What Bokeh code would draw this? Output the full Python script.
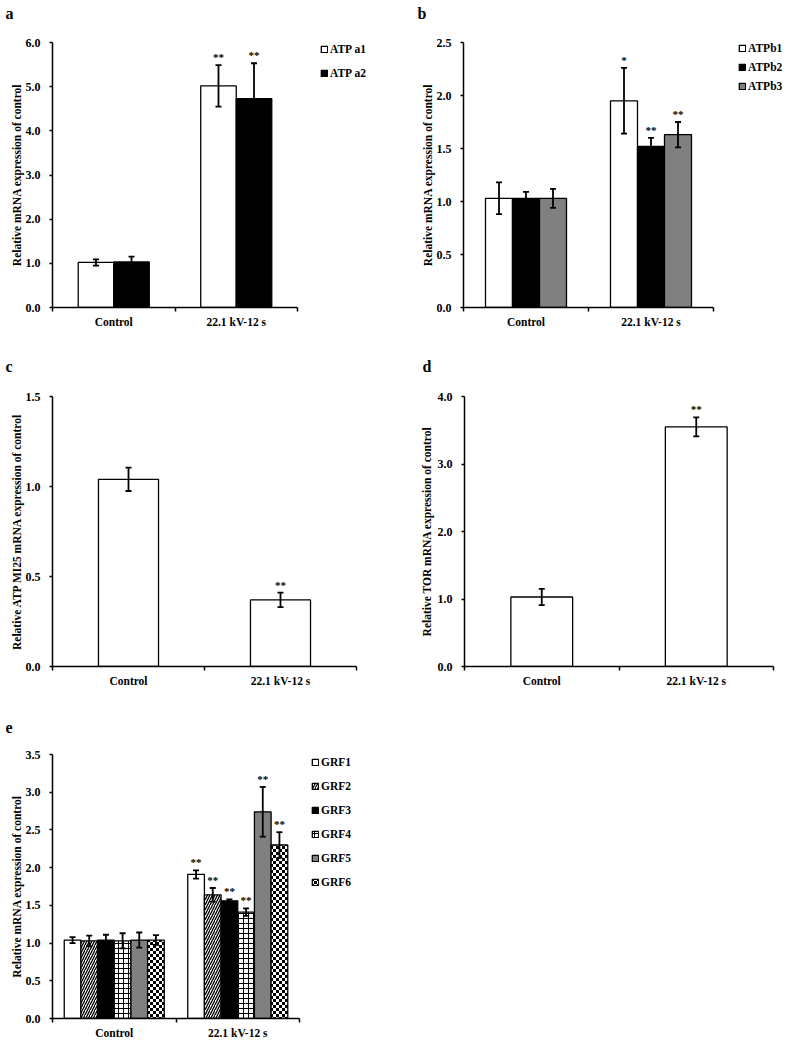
import base64
from bokeh.plotting import figure
from bokeh.models import (Range1d, FixedTicker, NumeralTickFormatter, CustomJSTickFormatter,
                          ColumnDataSource, Whisker, TeeHead, Legend, LegendItem, ImageURLTexture,
                          Title)
from bokeh.layouts import row, column
from bokeh.core.properties import value
from bokeh.embed import file_html
from bokeh.resources import INLINE

# ---------------- data ----------------
groups = ["Control", "22.1 kV-12 s"]

# panel a
a_names = ["ATP a1", "ATP a2"]
atp_a1 = [1.02, 5.02]
atp_a1_err = [0.07, 0.47]
atp_a1_sig = ["", "**"]
atp_a2 = [1.03, 4.73]
atp_a2_err = [0.12, 0.80]
atp_a2_sig = ["", "**"]
a_ticks = [0, 1, 2, 3, 4, 5, 6]

# panel b
b_names = ["ATPb1", "ATPb2", "ATPb3"]
atp_b1 = [1.03, 1.95]
atp_b1_err = [0.15, 0.31]
atp_b1_sig = ["", "*"]
atp_b2 = [1.03, 1.52]
atp_b2_err = [0.06, 0.08]
atp_b2_sig = ["", "**"]
atp_b3 = [1.03, 1.63]
atp_b3_err = [0.09, 0.12]
atp_b3_sig = ["", "**"]
b_ticks = [0, 0.5, 1.0, 1.5, 2.0, 2.5]

# panel c
atpmi25 = [1.04, 0.37]
atpmi25_err = [0.065, 0.04]
atpmi25_sig = ["", "**"]
c_ticks = [0, 0.5, 1.0, 1.5]

# panel d
tor = [1.03, 3.55]
tor_err = [0.12, 0.14]
tor_sig = ["", "**"]
d_ticks = [0, 1, 2, 3, 4]

# panel e
grf_names = ["GRF1", "GRF2", "GRF3", "GRF4", "GRF5", "GRF6"]
grf1 = [1.04, 1.91]
grf1_err = [0.04, 0.055]
grf2 = [1.03, 1.64]
grf2_err = [0.07, 0.09]
grf3 = [1.04, 1.56]
grf3_err = [0.07, 0.02]
grf4 = [1.03, 1.41]
grf4_err = [0.10, 0.05]
grf5 = [1.04, 2.74]
grf5_err = [0.10, 0.33]
grf6 = [1.04, 2.30]
grf6_err = [0.065, 0.17]
grf_sig = ["", "**"]
e_ticks = [0, 0.5, 1.0, 1.5, 2.0, 2.5, 3.0, 3.5]

# ---------------- style ----------------
SERIF = "Liberation Serif"
GRAY = "#808080"

_checker_svg = ("<svg xmlns='http://www.w3.org/2000/svg' width='6' height='6' "
                "shape-rendering='crispEdges'>"
                "<rect width='6' height='6' fill='white'/>"
                "<rect width='3' height='3' fill='black'/>"
                "<rect x='3' y='3' width='3' height='3' fill='black'/></svg>")
checker = ImageURLTexture(url="data:image/svg+xml;base64," +
                          base64.b64encode(_checker_svg.encode()).decode())


def make_fig(width, height, left, top, bottom, axis_len, y_end, ticks, ytitle, als,
             letter, letter_offset, spacer):
    frame_w = width - left
    x_end = len(groups) * frame_w / axis_len
    p = figure(width=width, height=height, x_range=Range1d(0, x_end),
               y_range=Range1d(0, y_end), output_backend="svg", toolbar_location=None,
               min_border_left=left, min_border_right=0, min_border_top=top,
               min_border_bottom=bottom, background_fill_color="white",
               border_fill_color="white", title=None)
    p.outline_line_color = None
    p.xgrid.visible = False
    p.ygrid.visible = False

    # empty spacer between the frame and the panel letter
    p.add_layout(Title(text=" ", text_font_size="1px", standoff=spacer), "above")
    p.add_layout(Title(text=letter, align="left", offset=letter_offset, standoff=0,
                       vertical_align="bottom", text_font=SERIF, text_font_style="bold",
                       text_font_size="16px", text_color="black"), "above")

    xa = p.xaxis[0]
    xa.bounds = (0, len(groups))
    xa.ticker = FixedTicker(ticks=[i + 0.5 for i in range(len(groups))],
                            minor_ticks=list(range(len(groups) + 1)))
    xa.formatter = CustomJSTickFormatter(args=dict(labels=groups),
                                         code="return labels[Math.floor(tick)]")
    xa.major_tick_out = 0
    xa.major_tick_in = 0
    xa.minor_tick_out = 4
    xa.minor_tick_in = 0
    xa.minor_tick_line_color = "black"
    xa.minor_tick_line_width = 1.5
    xa.axis_line_color = "black"
    xa.axis_line_width = 1.5
    xa.major_label_standoff = 4
    xa.major_label_text_font = SERIF
    xa.major_label_text_font_style = "bold"
    xa.major_label_text_font_size = "11.5px"
    xa.major_label_text_color = "black"

    ya = p.yaxis[0]
    ya.ticker = FixedTicker(ticks=ticks, minor_ticks=[])
    ya.formatter = NumeralTickFormatter(format="0.0")
    ya.major_tick_out = 3
    ya.major_tick_in = 0
    ya.minor_tick_out = 0
    ya.minor_tick_in = 0
    ya.major_tick_line_color = "black"
    ya.major_tick_line_width = 1.5
    ya.axis_line_color = "black"
    ya.axis_line_width = 1.5
    ya.major_label_standoff = 9
    ya.major_label_text_font = SERIF
    ya.major_label_text_font_style = "bold"
    ya.major_label_text_font_size = "12px"
    ya.major_label_text_color = "black"
    ya.axis_label = ytitle
    ya.axis_label_text_font = SERIF
    ya.axis_label_text_font_style = "bold"
    ya.axis_label_text_font_size = "11.5px"
    ya.axis_label_text_color = "black"
    ya.axis_label_standoff = als
    return p


def draw_series(p, names, means, errs, sigs, bar_w, styles):
    n = len(names)
    renderers = []
    for i in range(n):
        xs = [g + 0.5 + (i - (n - 1) / 2) * bar_w for g in range(len(groups))]
        m, e = means[i], errs[i]
        st = styles[i]
        src = ColumnDataSource(dict(
            x=xs, top=m,
            lower=[a - b for a, b in zip(m, e)],
            upper=[a + b for a, b in zip(m, e)],
            sig=sigs[i],
            pat=[st.get("pattern", " ")] * len(groups)))
        kw = dict(fill_color=st["fill"], line_color="black", line_width=1.3)
        if "pattern" in st:
            kw.update(hatch_pattern="pat", hatch_color="black",
                      hatch_scale=st.get("scale", 5), hatch_weight=st.get("weight", 1),
                      hatch_extra={"checker": checker})
        r = p.vbar(x="x", top="top", bottom=0, width=bar_w, source=src, **kw)
        renderers.append(r)
        p.add_layout(Whisker(source=src, base="x", upper="upper", lower="lower",
                             line_color="black", line_width=1.8, level="annotation",
                             upper_head=TeeHead(size=6, line_color="black", line_width=1.8),
                             lower_head=TeeHead(size=6, line_color="black", line_width=1.8)))
        p.text(x="x", y="upper", text="sig", source=src, text_align="center",
               text_baseline="bottom", y_offset=-2, text_font=value(SERIF),
               text_font_style="bold", text_font_size="11px", text_color="black")
    return renderers


def add_legend(p, names, renderers, axis_len, frame_h, x_off, top_off, spacing):
    item_h = 14
    leg_h = len(names) * item_h + (len(names) - 1) * spacing
    leg = Legend(items=[LegendItem(label=nm, renderers=[r]) for nm, r in zip(names, renderers)],
                 location=(axis_len + x_off, frame_h - top_off - leg_h),
                 glyph_width=8, glyph_height=8, label_height=item_h, label_standoff=2,
                 spacing=spacing, padding=0, margin=0, border_line_alpha=0,
                 background_fill_alpha=0, label_text_font=SERIF,
                 label_text_font_style="bold", label_text_font_size="11.5px",
                 label_text_color="black")
    p.add_layout(leg, "center")


# ---------------- panel a ----------------
pa = make_fig(390, 340, 52, 42, 33, 245, 6, a_ticks,
              "Relative mRNA expression of control", 0, "a", -47, 18)
ra = draw_series(pa, a_names, [atp_a1, atp_a2], [atp_a1_err, atp_a2_err],
                 [atp_a1_sig, atp_a2_sig], 0.29,
                 [dict(fill="white"), dict(fill="black")])
add_legend(pa, a_names, ra, 245, 265, 23, 0, 10)

# ---------------- panel b ----------------
pb = make_fig(397, 340, 73, 42, 32, 250, 2.5, b_ticks,
              "Relative mRNA expression of control", 0, "b", -46, 18)
rb = draw_series(pb, b_names, [atp_b1, atp_b2, atp_b3], [atp_b1_err, atp_b2_err, atp_b3_err],
                 [atp_b1_sig, atp_b2_sig, atp_b3_sig], 0.216,
                 [dict(fill="white"), dict(fill="black"), dict(fill=GRAY)])
add_legend(pb, b_names, rb, 250, 266, 25, 0, 5)

# ---------------- panel c ----------------
pc = make_fig(390, 350, 52, 56, 24, 304, 1.5, c_ticks,
              "Relative ATP MI25 mRNA expression of control", 0, "c", -47, 19)
draw_series(pc, ["ATP MI25"], [atpmi25], [atpmi25_err], [atpmi25_sig], 0.395,
            [dict(fill="white")])

# ---------------- panel d ----------------
pd_ = make_fig(397, 350, 74, 56, 23, 309, 4, d_ticks,
               "Relative TOR mRNA expression of control", 2, "d", -42, 19)
draw_series(pd_, ["TOR"], [tor], [tor_err], [tor_sig], 0.40, [dict(fill="white")])

# ---------------- panel e ----------------
pe = make_fig(390, 351, 52, 64, 22, 247, 3.5, e_ticks,
              "Relative mRNA expression of control", 0, "e", -47, 19)
re_ = draw_series(pe, grf_names, [grf1, grf2, grf3, grf4, grf5, grf6],
                  [grf1_err, grf2_err, grf3_err, grf4_err, grf5_err, grf6_err],
                  [grf_sig] * 6, 0.135,
                  [dict(fill="white"),
                   dict(fill="white", pattern="right_diagonal_line", scale=5, weight=1.3),
                   dict(fill="black"),
                   dict(fill="white", pattern="cross", scale=5, weight=1),
                   dict(fill=GRAY),
                   dict(fill="white", pattern="checker", scale=6, weight=1)])
add_legend(pe, grf_names, re_, 247, 265, 12, 2, 10)

layout = column(row(pa, pb), row(pc, pd_), pe)
open("out.html", "w").write(file_html(layout, INLINE))
